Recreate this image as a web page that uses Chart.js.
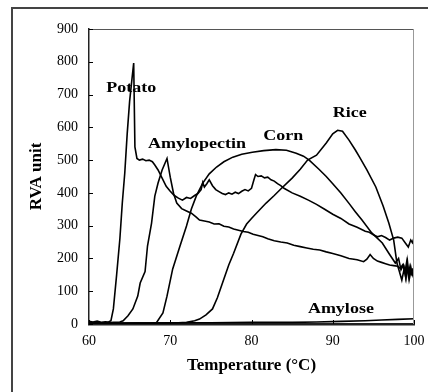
<!DOCTYPE html>
<html>
<head>
<meta charset="utf-8">
<title>RVA viscosity</title>
<script src="https://cdn.jsdelivr.net/npm/chart.js@4.4.1/dist/chart.umd.min.js"></script>
<style>
  html, body { margin: 0; padding: 0; background: #fff; }
</style>
</head>
<body>
<canvas id="rva" width="428" height="392"></canvas>
<script>
// temperature (°C) and RVA unit readings
const potatoT = [60, 60.5, 61, 61.5, 62, 62.4, 62.7, 63, 63.4, 63.8, 64.1, 64.4, 64.7, 65.0, 65.3, 65.5, 65.65, 65.9, 66.2, 66.6,
  67.0, 67.4, 67.8, 68.1, 68.5, 69.0, 69.5, 70.0, 70.5, 71.0, 71.5, 72.0, 72.5, 73.0, 73.4, 73.8, 74.0, 74.2, 74.5, 74.8,
  75.2, 75.6, 76.0, 76.4, 76.8, 77.2, 77.6, 78.0, 78.4, 78.8, 79.2, 79.6, 80.0, 80.3, 80.5, 80.8, 81.2, 81.6, 82.0, 82.4,
  82.8, 83.2, 83.6, 84.0, 85, 86, 87, 88, 89, 90, 91, 92, 93, 94, 94.5, 95, 95.5, 96, 96.5, 97,
  97.5, 98, 98.5, 99, 99.3, 99.6, 99.8, 100];
const potatoV = [8, 6, 9, 5, 7, 6, 10, 46, 150, 260, 370, 460, 580, 680, 750, 796, 540, 505, 500, 503,
  498, 500, 495, 485, 470, 445, 420, 405, 392, 384, 378, 386, 383, 392, 398, 410, 432, 418, 428, 440,
  422, 410, 404, 398, 395, 400, 396, 402, 398, 405, 410, 406, 414, 440, 456, 450, 452, 446, 448, 440,
  436, 428, 422, 414, 400, 390, 378, 365, 350, 335, 322, 305, 295, 283, 280, 272, 266, 270, 264, 256,
  262, 265, 262, 245, 235, 256, 248, 262];

const amylopectinT = [60, 61, 62, 63, 63.8, 64.2, 64.8, 65.4, 66.0, 66.3, 66.9, 67.2, 67.7, 68.1, 68.5, 69.0, 69.6, 70.0, 70.4, 70.8,
  71.4, 72.0, 72.6, 73.2, 73.6, 74.2, 74.8, 75.4, 76.0, 76.6, 77.2, 77.8, 78.4, 79.0, 79.6, 80.2, 80.8, 81.4, 82.0, 82.8,
  83.6, 84.4, 85.2, 86.0, 86.8, 87.6, 88.4, 89.2, 90.0, 91, 92, 93, 93.8, 94.2, 94.6, 95.0, 95.5, 96, 96.5, 97,
  97.5, 98, 98.3, 98.6, 98.9, 99.1, 99.3, 99.5, 99.7, 99.85, 100];
const amylopectinV = [3, 4, 3, 5, 6, 10, 25, 46, 85, 125, 160, 238, 308, 390, 430, 470, 505, 448, 399, 369,
  352, 345, 338, 326, 317, 314, 311, 305, 306, 298, 296, 290, 286, 282, 280, 274, 270, 266, 260, 254,
  250, 247, 240, 236, 232, 228, 226, 220, 215, 208, 200, 196, 190, 198, 212, 200, 192, 188, 184, 180,
  178, 176, 170, 180, 160, 190, 150, 175, 155, 168, 170];

const cornT = [60, 62, 64, 66, 67.5, 68.3, 69.1, 69.6, 70.3, 71.2, 72.0, 72.6, 73.2, 73.6, 74.0, 74.8, 75.7, 76.6, 77.7, 78.8,
  80.1, 81.5, 83.0, 84.3, 85.5, 86.4, 87.1, 88.3, 89.2, 90.0, 91.0, 92.0, 92.8, 93.6, 94.8, 96.1, 96.9, 97.7, 98.1, 98.4,
  98.7, 99.0, 99.2, 99.4, 99.6, 99.8, 100];
const cornV = [2, 3, 2, 3, 2, 4, 34, 85, 168, 238, 299, 351, 390, 410, 430, 458, 479, 495, 509, 518,
  524, 529, 532, 530, 521, 512, 500, 472, 450, 428, 400, 368, 342, 317, 278, 247, 216, 186, 200, 165,
  180, 140, 175, 135, 160, 150, 155];

const riceT = [60, 64, 68, 70, 71, 72, 73, 73.6, 74.4, 75.2, 75.8, 76.6, 77.2, 77.8, 78.7, 79.4, 80.0, 80.6, 81.8, 82.8,
  83.7, 85.0, 86.0, 86.9, 88.0, 89.2, 90.0, 90.6, 91.2, 92.0, 92.8, 93.3, 94.2, 95.3, 96.2, 96.9, 97.5, 97.9, 98.2, 98.5,
  98.8, 99.0, 99.2, 99.4, 99.6, 99.8, 100];
const riceV = [2, 2, 3, 3, 4, 5, 10, 15, 28, 46, 80, 137, 180, 216, 274, 305, 322, 338, 369, 392,
  414, 445, 472, 500, 515, 552, 580, 591, 588, 561, 530, 509, 470, 418, 360, 308, 256, 186, 160, 134,
  170, 140, 190, 145, 175, 150, 165];

const amyloseT = [60, 65, 70, 75, 80, 85, 88, 91, 94, 96, 98, 100];
const amyloseV = [3, 3, 4, 4, 5, 5, 6, 8, 10, 12, 14, 16];

const xTicks = [60, 70, 80, 90, 100];
const yTicks = [0, 100, 200, 300, 400, 500, 600, 700, 800, 900];

// curve labels, placed in data units
const labelText = ["Potato", "Amylopectin", "Corn", "Rice", "Amylose"];
const labelT = [65.2, 73.3, 83.9, 92.1, 91.0];
const labelV = [720, 549, 573, 644, 46];

function pts(ts, vs) {
  return ts.map((t, i) => ({ x: t, y: vs[i] }));
}

function line(data) {
  return {
    data: data,
    borderColor: "#000",
    borderWidth: 1.6,
    pointRadius: 0,
    tension: 0,
    fill: false
  };
}

const serif = "'Liberation Serif', 'Times New Roman', serif";
Chart.defaults.font.family = serif;
Chart.defaults.color = "#000";

// frame, inward ticks and curve names
const decor = {
  id: "decor",
  afterDraw(chart) {
    const ctx = chart.ctx;
    const a = chart.chartArea;
    const xs = chart.scales.x, ys = chart.scales.y;
    ctx.save();

    // outer figure frame (left + top)
    ctx.strokeStyle = "#444";
    ctx.lineWidth = 2;
    ctx.beginPath();
    ctx.moveTo(12, 392);
    ctx.lineTo(12, 8);
    ctx.lineTo(428, 8);
    ctx.stroke();

    // top and right edge of plot box
    ctx.lineWidth = 1;
    ctx.strokeStyle = "#555";
    ctx.beginPath();
    ctx.moveTo(a.left, a.top + 0.5);
    ctx.lineTo(a.right, a.top + 0.5);
    ctx.stroke();
    ctx.strokeStyle = "#999";
    ctx.beginPath();
    ctx.moveTo(a.right - 0.5, a.top);
    ctx.lineTo(a.right - 0.5, a.bottom);
    ctx.stroke();

    // inward ticks
    ctx.strokeStyle = "#000";
    yTicks.forEach(v => {
      const y = Math.round(ys.getPixelForValue(v)) + 0.5;
      ctx.beginPath();
      ctx.moveTo(a.left, y);
      ctx.lineTo(a.left + 4, y);
      ctx.stroke();
    });
    xTicks.forEach(t => {
      const x = Math.round(xs.getPixelForValue(t)) + 0.5;
      ctx.beginPath();
      ctx.moveTo(x, a.bottom);
      ctx.lineTo(x, a.bottom - 4);
      ctx.stroke();
    });

    // names
    ctx.fillStyle = "#000";
    ctx.font = "bold 15px " + serif;
    ctx.textAlign = "center";
    ctx.textBaseline = "middle";
    labelText.forEach((txt, i) => {
      const px = xs.getPixelForValue(labelT[i]);
      const py = ys.getPixelForValue(labelV[i]);
      ctx.save();
      ctx.translate(px, py);
      ctx.scale(1.2, 1);
      ctx.fillText(txt, 0, 0);
      ctx.restore();
    });
    ctx.restore();
  }
};

const chart = new Chart(document.getElementById("rva"), {
  type: "line",
  data: {
    datasets: [
      line(pts(potatoT, potatoV)),
      line(pts(amylopectinT, amylopectinV)),
      line(pts(cornT, cornV)),
      line(pts(riceT, riceV)),
      line(pts(amyloseT, amyloseV))
    ]
  },
  options: {
    responsive: false,
    devicePixelRatio: 1,
    animation: false,
    layout: { padding: { top: 29, right: 14, left: 0, bottom: 0 } },
    plugins: { legend: { display: false }, tooltip: { enabled: false } },
    scales: {
      x: {
        type: "linear",
        min: 60,
        max: 100,
        afterBuildTicks: s => { s.ticks = xTicks.map(v => ({ value: v })); },
        afterFit: s => { s.height = 68; s.paddingLeft = 0; s.paddingRight = 0; },
        grid: { drawOnChartArea: false, drawTicks: false },
        border: { display: true, color: "#222", width: 2.5 },
        ticks: { padding: 9, font: { size: 14 }, maxRotation: 0 },
        title: {
          display: true,
          text: "Temperature (\u00b0C)",
          font: { size: 17, weight: "bold" },
          padding: { top: 0, bottom: 16 }
        }
      },
      y: {
        min: 0,
        max: 900,
        afterBuildTicks: s => { s.ticks = yTicks.map(v => ({ value: v })); },
        afterFit: s => { s.width = 89; s.paddingTop = 0; s.paddingBottom = 0; },
        grid: { drawOnChartArea: false, drawTicks: false },
        border: { display: true, color: "#222", width: 1.5 },
        ticks: { padding: 11, font: { size: 14 } },
        title: {
          display: true,
          text: "RVA unit",
          font: { size: 17, weight: "bold" },
          padding: { top: 26, bottom: 0 }
        }
      }
    }
  },
  plugins: [decor]
});
</script>
</body>
</html>
